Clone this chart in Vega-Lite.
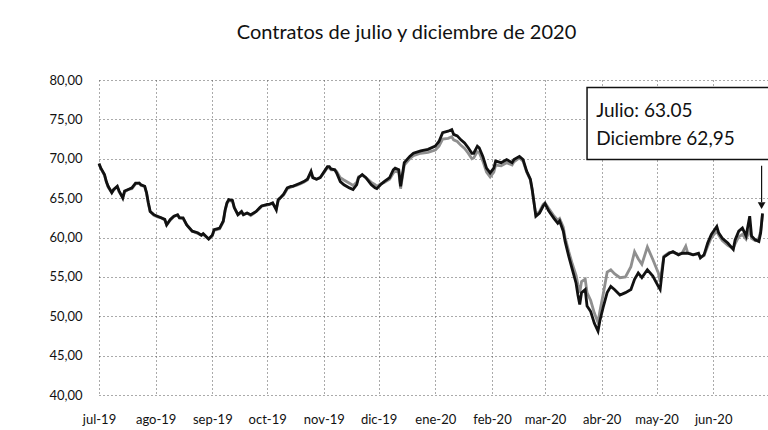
{
  "$schema": "https://vega.github.io/schema/vega-lite/v6.json",
  "autosize": "none",
  "width": 669,
  "height": 315,
  "padding": {"left": 99, "top": 80, "right": 0, "bottom": 35},
  "background": "white",
  "title": {"text": "Contratos de julio y diciembre de 2020", "fontSize": 20, "font": "Lato", "fontWeight": "normal", "color": "#111", "anchor": "middle", "frame": "group", "dx": -27, "offset": 31},
  "config": {
    "view": {"stroke": null},
    "font": "Lato",
    "axis": {"labelFont": "Lato", "labelFontSize": 13, "labelColor": "#111", "domain": false, "ticks": false, "grid": true, "gridColor": "#555", "gridDash": [1, 3], "gridWidth": 1, "title": null}
  },
  "resolve": {"axis": {"x": "independent", "y": "independent"}},
  "layer": [
    {
      "data": {"name": "serie", "values": [
        {"fecha": "2019-07-01", "julio": 69.4, "diciembre": 69.3},
        {"fecha": "2019-07-02", "julio": 68.8, "diciembre": 68.8},
        {"fecha": "2019-07-04", "julio": 68.0, "diciembre": 67.9},
        {"fecha": "2019-07-05", "julio": 67.1, "diciembre": 67.1},
        {"fecha": "2019-07-06", "julio": 66.5, "diciembre": 66.4},
        {"fecha": "2019-07-08", "julio": 65.7, "diciembre": 65.7},
        {"fecha": "2019-07-09", "julio": 66.1, "diciembre": 66.0},
        {"fecha": "2019-07-11", "julio": 66.5, "diciembre": 66.5},
        {"fecha": "2019-07-12", "julio": 65.9, "diciembre": 65.8},
        {"fecha": "2019-07-14", "julio": 65.0, "diciembre": 65.1},
        {"fecha": "2019-07-15", "julio": 65.9, "diciembre": 65.8},
        {"fecha": "2019-07-17", "julio": 66.1, "diciembre": 66.1},
        {"fecha": "2019-07-19", "julio": 66.3, "diciembre": 66.2},
        {"fecha": "2019-07-21", "julio": 66.9, "diciembre": 66.8},
        {"fecha": "2019-07-23", "julio": 66.9, "diciembre": 66.9},
        {"fecha": "2019-07-24", "julio": 66.7, "diciembre": 66.6},
        {"fecha": "2019-07-26", "julio": 66.5, "diciembre": 66.5},
        {"fecha": "2019-07-27", "julio": 65.7, "diciembre": 65.6},
        {"fecha": "2019-07-28", "julio": 64.4, "diciembre": 64.3},
        {"fecha": "2019-07-29", "julio": 63.3, "diciembre": 63.3},
        {"fecha": "2019-07-31", "julio": 62.9, "diciembre": 62.8},
        {"fecha": "2019-08-02", "julio": 62.7, "diciembre": 62.6},
        {"fecha": "2019-08-04", "julio": 62.5, "diciembre": 62.5},
        {"fecha": "2019-08-06", "julio": 62.3, "diciembre": 62.2},
        {"fecha": "2019-08-07", "julio": 61.6, "diciembre": 61.6},
        {"fecha": "2019-08-09", "julio": 62.3, "diciembre": 62.2},
        {"fecha": "2019-08-11", "julio": 62.7, "diciembre": 62.7},
        {"fecha": "2019-08-13", "julio": 62.9, "diciembre": 62.8},
        {"fecha": "2019-08-14", "julio": 62.5, "diciembre": 62.5},
        {"fecha": "2019-08-16", "julio": 62.5, "diciembre": 62.4},
        {"fecha": "2019-08-18", "julio": 61.6, "diciembre": 61.6},
        {"fecha": "2019-08-21", "julio": 60.8, "diciembre": 60.8},
        {"fecha": "2019-08-24", "julio": 60.6, "diciembre": 60.5},
        {"fecha": "2019-08-26", "julio": 60.3, "diciembre": 60.3},
        {"fecha": "2019-08-27", "julio": 60.5, "diciembre": 60.4},
        {"fecha": "2019-08-30", "julio": 59.8, "diciembre": 59.8},
        {"fecha": "2019-09-01", "julio": 60.3, "diciembre": 60.2},
        {"fecha": "2019-09-02", "julio": 61.0, "diciembre": 60.9},
        {"fecha": "2019-09-05", "julio": 61.2, "diciembre": 61.1},
        {"fecha": "2019-09-07", "julio": 62.1, "diciembre": 62.0},
        {"fecha": "2019-09-08", "julio": 63.5, "diciembre": 63.4},
        {"fecha": "2019-09-09", "julio": 64.4, "diciembre": 64.3},
        {"fecha": "2019-09-10", "julio": 64.8, "diciembre": 64.7},
        {"fecha": "2019-09-12", "julio": 64.7, "diciembre": 64.6},
        {"fecha": "2019-09-13", "julio": 63.8, "diciembre": 63.8},
        {"fecha": "2019-09-15", "julio": 62.9, "diciembre": 62.9},
        {"fecha": "2019-09-17", "julio": 63.3, "diciembre": 63.2},
        {"fecha": "2019-09-18", "julio": 62.9, "diciembre": 62.9},
        {"fecha": "2019-09-20", "julio": 63.1, "diciembre": 63.1},
        {"fecha": "2019-09-22", "julio": 62.9, "diciembre": 62.8},
        {"fecha": "2019-09-25", "julio": 63.3, "diciembre": 63.3},
        {"fecha": "2019-09-27", "julio": 63.8, "diciembre": 63.7},
        {"fecha": "2019-09-28", "julio": 64.0, "diciembre": 64.0},
        {"fecha": "2019-10-01", "julio": 64.2, "diciembre": 64.1},
        {"fecha": "2019-10-02", "julio": 64.2, "diciembre": 64.2},
        {"fecha": "2019-10-04", "julio": 64.4, "diciembre": 64.3},
        {"fecha": "2019-10-06", "julio": 63.5, "diciembre": 63.7},
        {"fecha": "2019-10-07", "julio": 64.8, "diciembre": 64.6},
        {"fecha": "2019-10-08", "julio": 65.0, "diciembre": 65.0},
        {"fecha": "2019-10-10", "julio": 65.5, "diciembre": 65.4},
        {"fecha": "2019-10-12", "julio": 66.3, "diciembre": 66.2},
        {"fecha": "2019-10-14", "julio": 66.5, "diciembre": 66.4},
        {"fecha": "2019-10-15", "julio": 66.5, "diciembre": 66.5},
        {"fecha": "2019-10-17", "julio": 66.7, "diciembre": 66.6},
        {"fecha": "2019-10-19", "julio": 66.9, "diciembre": 66.8},
        {"fecha": "2019-10-21", "julio": 67.1, "diciembre": 67.0},
        {"fecha": "2019-10-23", "julio": 67.4, "diciembre": 67.3},
        {"fecha": "2019-10-25", "julio": 68.4, "diciembre": 68.2},
        {"fecha": "2019-10-26", "julio": 67.6, "diciembre": 67.6},
        {"fecha": "2019-10-28", "julio": 67.4, "diciembre": 67.4},
        {"fecha": "2019-10-30", "julio": 67.6, "diciembre": 67.6},
        {"fecha": "2019-11-01", "julio": 68.3, "diciembre": 68.2},
        {"fecha": "2019-11-03", "julio": 69.0, "diciembre": 68.9},
        {"fecha": "2019-11-04", "julio": 69.0, "diciembre": 68.8},
        {"fecha": "2019-11-05", "julio": 68.7, "diciembre": 68.6},
        {"fecha": "2019-11-07", "julio": 68.6, "diciembre": 68.6},
        {"fecha": "2019-11-08", "julio": 68.2, "diciembre": 68.4},
        {"fecha": "2019-11-10", "julio": 67.1, "diciembre": 67.6},
        {"fecha": "2019-11-12", "julio": 66.7, "diciembre": 67.3},
        {"fecha": "2019-11-15", "julio": 66.3, "diciembre": 66.9},
        {"fecha": "2019-11-17", "julio": 66.1, "diciembre": 66.6},
        {"fecha": "2019-11-19", "julio": 66.7, "diciembre": 67.0},
        {"fecha": "2019-11-20", "julio": 67.6, "diciembre": 67.7},
        {"fecha": "2019-11-22", "julio": 68.0, "diciembre": 67.9},
        {"fecha": "2019-11-24", "julio": 67.6, "diciembre": 67.6},
        {"fecha": "2019-11-27", "julio": 66.7, "diciembre": 67.0},
        {"fecha": "2019-11-29", "julio": 66.3, "diciembre": 66.7},
        {"fecha": "2019-11-30", "julio": 66.2, "diciembre": 66.5},
        {"fecha": "2019-12-02", "julio": 66.7, "diciembre": 66.8},
        {"fecha": "2019-12-04", "julio": 67.1, "diciembre": 67.0},
        {"fecha": "2019-12-07", "julio": 67.6, "diciembre": 67.4},
        {"fecha": "2019-12-09", "julio": 68.6, "diciembre": 68.2},
        {"fecha": "2019-12-10", "julio": 68.8, "diciembre": 68.4},
        {"fecha": "2019-12-12", "julio": 68.6, "diciembre": 68.3},
        {"fecha": "2019-12-13", "julio": 66.5, "diciembre": 66.2},
        {"fecha": "2019-12-15", "julio": 69.5, "diciembre": 69.2},
        {"fecha": "2019-12-18", "julio": 70.3, "diciembre": 70.0},
        {"fecha": "2019-12-20", "julio": 70.7, "diciembre": 70.4},
        {"fecha": "2019-12-24", "julio": 71.0, "diciembre": 70.7},
        {"fecha": "2019-12-28", "julio": 71.2, "diciembre": 70.8},
        {"fecha": "2020-01-01", "julio": 71.6, "diciembre": 71.1},
        {"fecha": "2020-01-03", "julio": 72.2, "diciembre": 71.6},
        {"fecha": "2020-01-05", "julio": 73.3, "diciembre": 72.5},
        {"fecha": "2020-01-08", "julio": 73.5, "diciembre": 72.6},
        {"fecha": "2020-01-10", "julio": 73.7, "diciembre": 72.8},
        {"fecha": "2020-01-11", "julio": 73.1, "diciembre": 72.4},
        {"fecha": "2020-01-13", "julio": 72.9, "diciembre": 72.2},
        {"fecha": "2020-01-15", "julio": 72.4, "diciembre": 71.7},
        {"fecha": "2020-01-17", "julio": 72.0, "diciembre": 71.3},
        {"fecha": "2020-01-19", "julio": 71.4, "diciembre": 70.7},
        {"fecha": "2020-01-21", "julio": 70.7, "diciembre": 70.0},
        {"fecha": "2020-01-22", "julio": 70.7, "diciembre": 70.1},
        {"fecha": "2020-01-24", "julio": 71.6, "diciembre": 70.9},
        {"fecha": "2020-01-25", "julio": 71.4, "diciembre": 70.8},
        {"fecha": "2020-01-27", "julio": 70.3, "diciembre": 69.7},
        {"fecha": "2020-01-29", "julio": 68.8, "diciembre": 68.3},
        {"fecha": "2020-01-31", "julio": 68.2, "diciembre": 67.7},
        {"fecha": "2020-02-02", "julio": 68.8, "diciembre": 68.3},
        {"fecha": "2020-02-03", "julio": 69.7, "diciembre": 69.2},
        {"fecha": "2020-02-06", "julio": 69.5, "diciembre": 69.1},
        {"fecha": "2020-02-09", "julio": 69.9, "diciembre": 69.5},
        {"fecha": "2020-02-12", "julio": 69.5, "diciembre": 69.2},
        {"fecha": "2020-02-13", "julio": 69.9, "diciembre": 69.6},
        {"fecha": "2020-02-16", "julio": 70.3, "diciembre": 70.1},
        {"fecha": "2020-02-18", "julio": 69.9, "diciembre": 69.7},
        {"fecha": "2020-02-20", "julio": 68.4, "diciembre": 68.3},
        {"fecha": "2020-02-22", "julio": 67.4, "diciembre": 67.3},
        {"fecha": "2020-02-23", "julio": 66.1, "diciembre": 66.0},
        {"fecha": "2020-02-24", "julio": 64.4, "diciembre": 64.4},
        {"fecha": "2020-02-25", "julio": 62.7, "diciembre": 62.9},
        {"fecha": "2020-02-27", "julio": 63.1, "diciembre": 63.3},
        {"fecha": "2020-02-29", "julio": 64.0, "diciembre": 64.2},
        {"fecha": "2020-03-01", "julio": 64.3, "diciembre": 64.4},
        {"fecha": "2020-03-03", "julio": 63.4, "diciembre": 63.7},
        {"fecha": "2020-03-06", "julio": 62.4, "diciembre": 62.7},
        {"fecha": "2020-03-08", "julio": 61.8, "diciembre": 62.2},
        {"fecha": "2020-03-09", "julio": 62.1, "diciembre": 62.4},
        {"fecha": "2020-03-11", "julio": 60.8, "diciembre": 61.3},
        {"fecha": "2020-03-12", "julio": 59.5, "diciembre": 60.0},
        {"fecha": "2020-03-14", "julio": 57.6, "diciembre": 58.2},
        {"fecha": "2020-03-16", "julio": 55.9, "diciembre": 56.6},
        {"fecha": "2020-03-18", "julio": 54.2, "diciembre": 55.2},
        {"fecha": "2020-03-19", "julio": 52.7, "diciembre": 54.0},
        {"fecha": "2020-03-20", "julio": 51.5, "diciembre": 53.0},
        {"fecha": "2020-03-21", "julio": 53.0, "diciembre": 54.4},
        {"fecha": "2020-03-23", "julio": 53.4, "diciembre": 54.7},
        {"fecha": "2020-03-24", "julio": 51.3, "diciembre": 53.0},
        {"fecha": "2020-03-26", "julio": 50.6, "diciembre": 52.0},
        {"fecha": "2020-03-28", "julio": 49.1, "diciembre": 50.4},
        {"fecha": "2020-03-30", "julio": 48.1, "diciembre": 49.2},
        {"fecha": "2020-03-31", "julio": 49.4, "diciembre": 50.6},
        {"fecha": "2020-04-02", "julio": 51.3, "diciembre": 53.0},
        {"fecha": "2020-04-04", "julio": 53.0, "diciembre": 55.6},
        {"fecha": "2020-04-06", "julio": 53.8, "diciembre": 55.9},
        {"fecha": "2020-04-08", "julio": 53.4, "diciembre": 55.4},
        {"fecha": "2020-04-11", "julio": 52.7, "diciembre": 54.9},
        {"fecha": "2020-04-14", "julio": 53.0, "diciembre": 55.0},
        {"fecha": "2020-04-17", "julio": 53.4, "diciembre": 56.3},
        {"fecha": "2020-04-19", "julio": 54.7, "diciembre": 58.2},
        {"fecha": "2020-04-21", "julio": 55.5, "diciembre": 57.3},
        {"fecha": "2020-04-23", "julio": 54.9, "diciembre": 56.6},
        {"fecha": "2020-04-26", "julio": 55.9, "diciembre": 58.8},
        {"fecha": "2020-04-29", "julio": 55.1, "diciembre": 57.2},
        {"fecha": "2020-05-02", "julio": 53.8, "diciembre": 55.5},
        {"fecha": "2020-05-03", "julio": 53.4, "diciembre": 54.4},
        {"fecha": "2020-05-05", "julio": 57.5, "diciembre": 57.6},
        {"fecha": "2020-05-08", "julio": 58.0, "diciembre": 58.1},
        {"fecha": "2020-05-10", "julio": 58.2, "diciembre": 58.1},
        {"fecha": "2020-05-13", "julio": 57.8, "diciembre": 57.9},
        {"fecha": "2020-05-15", "julio": 58.0, "diciembre": 58.0},
        {"fecha": "2020-05-17", "julio": 58.0, "diciembre": 58.9},
        {"fecha": "2020-05-18", "julio": 58.0, "diciembre": 58.1},
        {"fecha": "2020-05-21", "julio": 57.8, "diciembre": 57.8},
        {"fecha": "2020-05-24", "julio": 58.0, "diciembre": 57.9},
        {"fecha": "2020-05-25", "julio": 57.4, "diciembre": 57.5},
        {"fecha": "2020-05-27", "julio": 57.8, "diciembre": 57.7},
        {"fecha": "2020-05-29", "julio": 59.3, "diciembre": 58.9},
        {"fecha": "2020-05-31", "julio": 60.4, "diciembre": 60.0},
        {"fecha": "2020-06-03", "julio": 61.4, "diciembre": 60.8},
        {"fecha": "2020-06-04", "julio": 60.6, "diciembre": 60.3},
        {"fecha": "2020-06-06", "julio": 59.9, "diciembre": 59.6},
        {"fecha": "2020-06-09", "julio": 59.3, "diciembre": 59.0},
        {"fecha": "2020-06-12", "julio": 58.5, "diciembre": 58.6},
        {"fecha": "2020-06-13", "julio": 59.7, "diciembre": 59.2},
        {"fecha": "2020-06-15", "julio": 60.8, "diciembre": 60.1},
        {"fecha": "2020-06-17", "julio": 61.2, "diciembre": 60.4},
        {"fecha": "2020-06-19", "julio": 60.2, "diciembre": 59.8},
        {"fecha": "2020-06-21", "julio": 62.7, "diciembre": 61.0},
        {"fecha": "2020-06-22", "julio": 60.2, "diciembre": 59.9},
        {"fecha": "2020-06-24", "julio": 59.7, "diciembre": 59.6},
        {"fecha": "2020-06-26", "julio": 59.5, "diciembre": 59.9},
        {"fecha": "2020-06-27", "julio": 60.6, "diciembre": 60.8},
        {"fecha": "2020-06-28", "julio": 63.05, "diciembre": 62.95}
      ]},
      "transform": [{"fold": ["diciembre", "julio"], "as": ["contrato", "valor"]}],
      "mark": {"type": "line", "strokeWidth": 2.8},
      "encoding": {
        "x": {
          "field": "fecha", "type": "temporal",
          "scale": {"domain": [{"year": 2019, "month": 7, "date": 1}, {"year": 2020, "month": 7, "date": 1}]},
          "axis": {
            "values": [
              {"year": 2019, "month": 7, "date": 1}, {"year": 2019, "month": 8, "date": 1}, {"year": 2019, "month": 9, "date": 1},
              {"year": 2019, "month": 10, "date": 1}, {"year": 2019, "month": 11, "date": 1}, {"year": 2019, "month": 12, "date": 1},
              {"year": 2020, "month": 1, "date": 1}, {"year": 2020, "month": 2, "date": 1}, {"year": 2020, "month": 3, "date": 1},
              {"year": 2020, "month": 4, "date": 1}, {"year": 2020, "month": 5, "date": 1}, {"year": 2020, "month": 6, "date": 1}
            ],
            "labelExpr": "['ene','feb','mar','abr','may','jun','jul','ago','sep','oct','nov','dic'][month(datum.value)] + '-' + timeFormat(datum.value, '%y')",
            "labelFlush": false,
            "labelPadding": 18
          }
        },
        "y": {
          "field": "valor", "type": "quantitative",
          "scale": {"domain": [40, 80], "nice": false, "zero": false},
          "axis": {"values": [40, 45, 50, 55, 60, 65, 70, 75, 80], "labelExpr": "replace(format(datum.value, '.2f'), '.', ',')", "labelPadding": 17, "labelFlush": false}
        },
        "color": {"field": "contrato", "type": "nominal", "scale": {"domain": ["diciembre", "julio"], "range": ["#8f8f8f", "#111111"]}, "legend": null}
      }
    },
    {
      "data": {"values": [{"a": 1}]},
      "mark": {"type": "rect", "fill": "white", "stroke": "#111", "strokeWidth": 1.5},
      "encoding": {
        "x": {"datum": {"year": 2020, "month": 3, "date": 24}, "type": "temporal", "axis": null},
        "x2": {"datum": {"year": 2020, "month": 7, "date": 4}},
        "y": {"datum": 79.05, "type": "quantitative", "axis": null},
        "y2": {"datum": 69.9}
      }
    },
    {
      "data": {"values": [{"a": 1}]},
      "mark": {"type": "text", "text": "Julio: 63.05", "align": "left", "baseline": "middle", "fontSize": 19, "font": "Lato", "color": "#111"},
      "encoding": {
        "x": {"datum": {"year": 2020, "month": 3, "date": 29}, "type": "temporal", "axis": null},
        "y": {"datum": 76.1, "type": "quantitative", "axis": null}
      }
    },
    {
      "data": {"values": [{"a": 1}]},
      "mark": {"type": "text", "text": "Diciembre 62,95", "align": "left", "baseline": "middle", "fontSize": 19, "font": "Lato", "color": "#111"},
      "encoding": {
        "x": {"datum": {"year": 2020, "month": 3, "date": 29}, "type": "temporal", "axis": null},
        "y": {"datum": 72.5, "type": "quantitative", "axis": null}
      }
    },
    {
      "data": {"values": [{"a": 1}]},
      "mark": {"type": "rule", "color": "#111", "strokeWidth": 1.2},
      "encoding": {
        "x": {"datum": {"year": 2020, "month": 6, "date": 27, "hours": 12}, "type": "temporal", "axis": null},
        "y": {"datum": 69.1, "type": "quantitative", "axis": null},
        "y2": {"datum": 64.5}
      }
    },
    {
      "data": {"values": [{"a": 1}]},
      "mark": {"type": "point", "shape": "triangle-down", "filled": true, "color": "#111", "size": 60, "opacity": 1},
      "encoding": {
        "x": {"datum": {"year": 2020, "month": 6, "date": 27, "hours": 12}, "type": "temporal", "axis": null},
        "y": {"datum": 64.05, "type": "quantitative", "axis": null}
      }
    }
  ]
}
